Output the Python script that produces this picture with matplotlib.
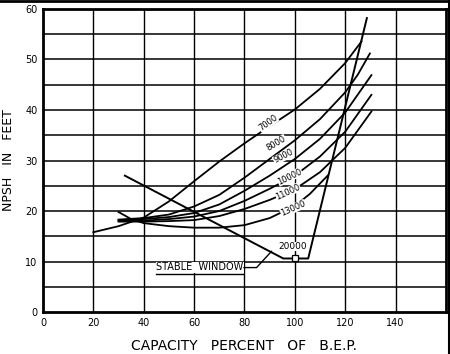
import numpy as np
import matplotlib
matplotlib.use('Agg')
import matplotlib.pyplot as plt
from matplotlib.lines import Line2D

# ── data (capacity % of BEP, NPSH ft) ────────────────────────────────────────
x_7000 = [20, 30, 40, 50, 60, 70, 80, 90, 100, 110, 120, 126.5]
y_7000 = [15.8, 17.0, 18.7, 21.9, 25.9, 29.8, 33.4, 36.8, 40.1, 44.2, 49.3, 53.6]

x_8000 = [30, 40, 50, 60, 70, 80, 90, 100, 110, 120, 125, 129.8]
y_8000 = [18.3, 18.6, 19.3, 20.9, 23.2, 26.6, 30.3, 34.0, 38.2, 43.5, 47.0, 51.2]

x_9000 = [30, 40, 50, 60, 70, 80, 90, 100, 110, 120, 130.4]
y_9000 = [18.2, 18.4, 18.8, 19.6, 21.3, 24.0, 27.0, 30.3, 34.3, 39.5, 46.9]

x_10000 = [30, 40, 50, 60, 70, 80, 90, 100, 110, 120, 130.4]
y_10000 = [18.0, 18.1, 18.4, 18.9, 20.0, 22.0, 24.4, 27.0, 30.8, 35.7, 43.0]

x_11000 = [30, 40, 50, 60, 70, 80, 90, 100, 110, 120, 130.4]
y_11000 = [17.9, 17.9, 18.0, 18.2, 19.0, 20.4, 22.2, 24.3, 27.7, 32.5, 39.7]

x_13000 = [30, 35, 40, 50, 60, 70, 80, 90, 100, 106, 113]
y_13000 = [19.8, 18.4, 17.6, 17.0, 16.7, 16.7, 17.2, 18.6, 21.0, 23.4, 27.0]

# 20000 rpm stable window boundary
x_window = [32.5, 95.4, 105.3, 128.6]
y_window = [27.0, 10.6, 10.6, 58.2]
bep_x, bep_y = 100, 10.6

speeds = ['7000', '8000', '9000', '10000', '11000', '13000']
label_x = [89.4, 92.7, 95.4, 98.0, 97.3, 99.3]
label_y = [37.4, 33.4, 30.8, 26.8, 23.8, 20.5]
label_rot = [36, 31, 27, 26, 25, 24]

x_ticks = [0, 20, 40, 60, 80, 100, 120, 140]
y_ticks = [0, 10, 20, 30, 40, 50, 60]

curves = [(x_7000, y_7000), (x_8000, y_8000), (x_9000, y_9000),
          (x_10000, y_10000), (x_11000, y_11000), (x_13000, y_13000)]

fig = plt.figure(figsize=(4.5, 3.54), dpi=100)
ax = fig.add_axes([0.0956, 0.1186, 0.8954, 0.856])

# grid drawn as plain lines so it sits under the curves
for gy in np.arange(5, 60, 5):
    ax.axhline(gy, color='black', lw=1.1, zorder=1)
for gx in np.arange(20, 160, 20):
    ax.axvline(gx, color='black', lw=1.0, zorder=1)

for xs, ys in curves:
    ax.plot(xs, ys, color='black', lw=1.3, zorder=3)

ax.plot(x_window, y_window, color='black', lw=1.4, zorder=3)
ax.plot([bep_x], [bep_y], marker='s', ms=4.5, mfc='white', mec='black',
        mew=0.9, zorder=5)

for s, lx, ly, r in zip(speeds, label_x, label_y, label_rot):
    ax.text(lx, ly, s, rotation=r, ha='center', va='center', fontsize=6,
            zorder=4, bbox=dict(facecolor='white', edgecolor='none', pad=0.1))
ax.text(99.3, 13.0, '20000', ha='center', va='center', fontsize=6.5, zorder=4,
        bbox=dict(facecolor='white', edgecolor='none', pad=0.2))

# stable window callout with underline and leader
ax.text(45, 8.85, 'STABLE  WINDOW', ha='left', va='center', fontsize=7,
        zorder=4, bbox=dict(facecolor='white', edgecolor='none', pad=0.5))
ax.plot([45, 79.5], [7.5, 7.5], color='black', lw=1.0, zorder=5)
ax.plot([79.8, 84.8, 90.7], [8.8, 8.8, 12.0], color='black', lw=1.0, zorder=5)

ax.set_xlim(0, 160)
ax.set_ylim(0, 60)
ax.set_xticks(x_ticks)
ax.set_yticks(y_ticks)
ax.tick_params(length=0, labelsize=7, pad=4)
for sp in ax.spines.values():
    sp.set_linewidth(2.0)

ax.set_xlabel('CAPACITY   PERCENT   OF   B.E.P.', fontsize=10, labelpad=8)
ax.set_ylabel('NPSH   IN   FEET', fontsize=9, labelpad=7)

# scanned page edge on top and right
fig.add_artist(Line2D([0, 1], [0.997, 0.997], color='black', lw=2,
                      transform=fig.transFigure))
fig.add_artist(Line2D([0.997, 0.997], [0, 1], color='black', lw=1.5,
                      transform=fig.transFigure))

fig.savefig('out.png', dpi=100)
